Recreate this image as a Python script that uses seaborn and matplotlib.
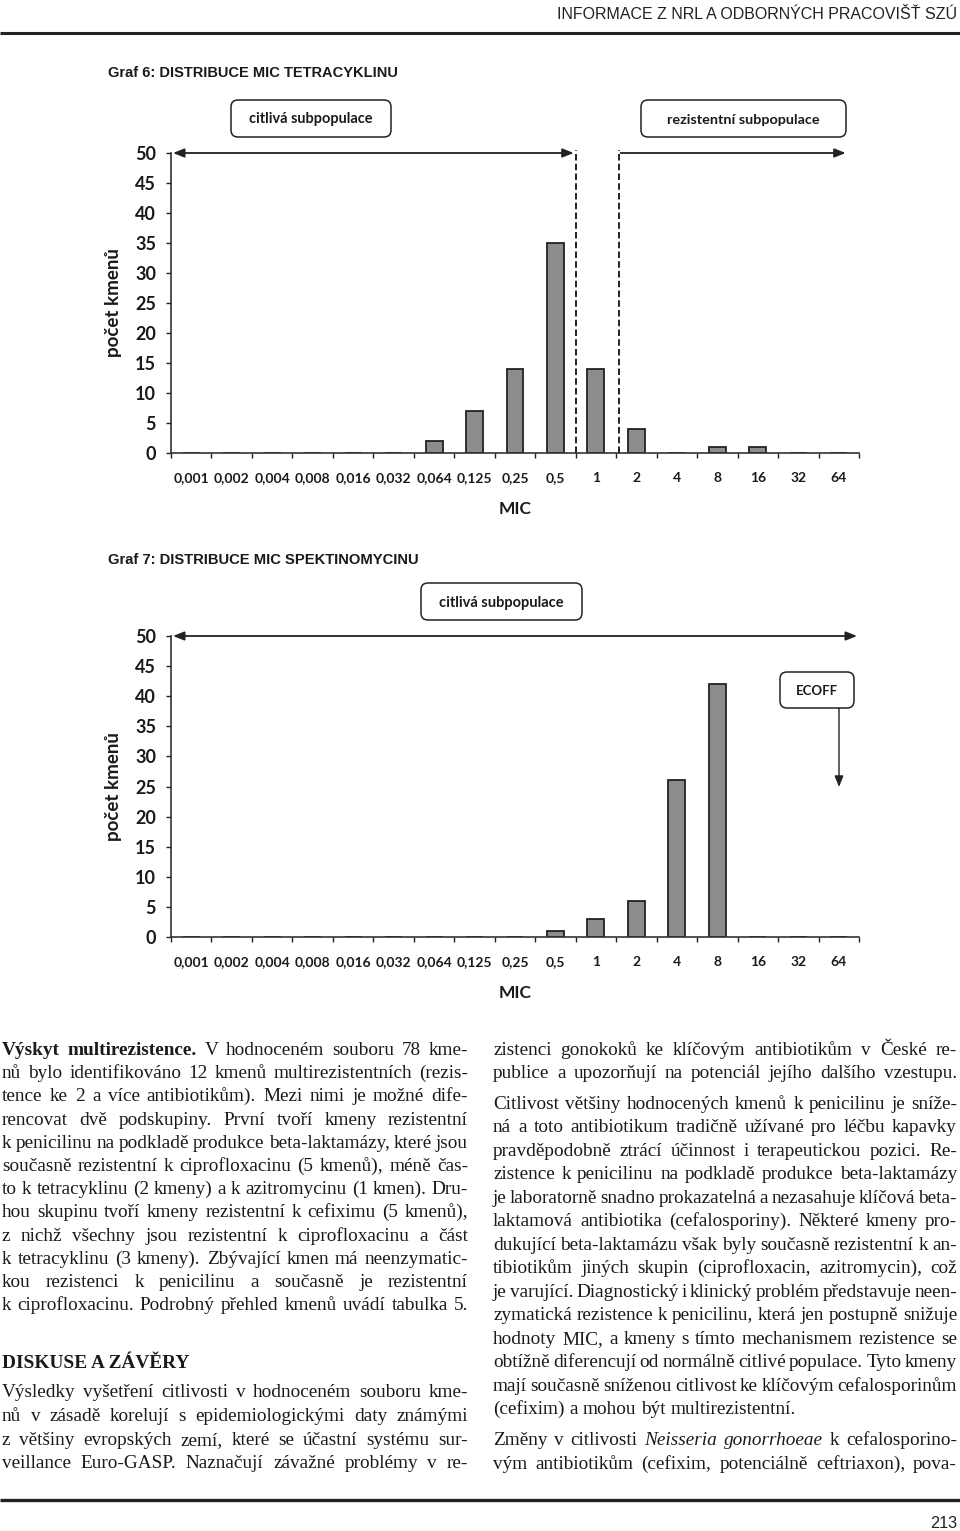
import matplotlib
matplotlib.use('Agg')
import matplotlib.pyplot as plt
import matplotlib.patches as mpatches
import pandas as pd
import seaborn as sns


# chart data
mic_labels = ['0,001', '0,002', '0,004', '0,008', '0,016', '0,032', '0,064', '0,125',
              '0,25', '0,5', '1', '2', '4', '8', '16', '32', '64']
tetra_counts = [0, 0, 0, 0, 0, 0, 2, 7, 14, 35, 14, 4, 0, 1, 1, 0, 0]
spekt_counts = [0, 0, 0, 0, 0, 0, 0, 0, 0, 1, 3, 6, 26, 42, 0, 0, 0]
y_ticks = list(range(0, 55, 5))

# page text (* = bold word, _ = italic word)
left_par1 = [
    '*Výskyt* *multirezistence.* V hodnoceném souboru 78 kme-',
    'nů bylo identifikováno 12 kmenů multirezistentních (rezis-',
    'tence ke 2 a více antibiotikům). Mezi nimi je možné dife-',
    'rencovat dvě podskupiny. První tvoří kmeny rezistentní',
    'k penicilinu na podkladě produkce beta-laktamázy, které jsou',
    'současně rezistentní k ciprofloxacinu (5 kmenů), méně čas-',
    'to k tetracyklinu (2 kmeny) a k azitromycinu (1 kmen). Dru-',
    'hou skupinu tvoří kmeny rezistentní k cefiximu (5 kmenů),',
    'z nichž všechny jsou rezistentní k ciprofloxacinu a část',
    'k tetracyklinu (3 kmeny). Zbývající kmen má neenzymatic-',
    'kou rezistenci k penicilinu a současně je rezistentní',
    'k ciprofloxacinu. Podrobný přehled kmenů uvádí tabulka 5.',
]
left_par2 = [
    'Výsledky vyšetření citlivosti v hodnoceném souboru kme-',
    'nů v zásadě korelují s epidemiologickými daty známými',
    'z většiny evropských zemí, které se účastní systému sur-',
    'veillance Euro-GASP. Naznačují závažné problémy v re-',
]
right_par1 = [
    'zistenci gonokoků ke klíčovým antibiotikům v České re-',
    'publice a upozorňují na potenciál jejího dalšího vzestupu.',
]
right_par2 = [
    'Citlivost většiny hodnocených kmenů k penicilinu je sníže-',
    'ná a toto antibiotikum tradičně užívané pro léčbu kapavky',
    'pravděpodobně ztrácí účinnost i terapeutickou pozici. Re-',
    'zistence k penicilinu na podkladě produkce beta-laktamázy',
    'je laboratorně snadno prokazatelná a nezasahuje klíčová beta-',
    'laktamová antibiotika (cefalosporiny). Některé kmeny pro-',
    'dukující beta-laktamázu však byly současně rezistentní k an-',
    'tibiotikům jiných skupin (ciprofloxacin, azitromycin), což',
    'je varující. Diagnostický i klinický problém představuje neen-',
    'zymatická rezistence k penicilinu, která jen postupně snižuje',
    'hodnoty MIC, a kmeny s tímto mechanismem rezistence se',
    'obtížně diferencují od normálně citlivé populace. Tyto kmeny',
    'mají současně sníženou citlivost ke klíčovým cefalosporinům',
    '(cefixim) a mohou být multirezistentní.',
]
right_par3 = [
    'Změny v citlivosti _Neisseria_ _gonorrhoeae_ k cefalosporino-',
    'vým antibiotikům (cefixim, potenciálně ceftriaxon), pova-',
]

W, H = 960, 1531
SERIF = ['Liberation Serif', 'DejaVu Serif']
NARROW = ['Liberation Sans Narrow', 'Liberation Sans', 'DejaVu Sans']
CHART = ['Lato', 'DejaVu Sans']
BODY_PT = 13.9

sns.set_theme(style='white')
plt.rcParams['font.family'] = CHART

fig = plt.figure(figsize=(W / 100, H / 100), dpi=100)
fig.patch.set_facecolor('white')
page = fig.add_axes([0, 0, 1, 1])
page.set_xlim(0, W)
page.set_ylim(H, 0)
page.axis('off')
page.patch.set_visible(False)
renderer = fig.canvas.get_renderer()


def text_width(txt, size, **kw):
    t = page.text(0, 0, txt, fontsize=size, **kw)
    w = t.get_window_extent(renderer=renderer).width
    t.remove()
    return w


# put a text and scale its font so it spans the given width
def fit_text(x, y, txt, width, size, **kw):
    t = page.text(x, y, txt, fontsize=size, **kw)
    w = t.get_window_extent(renderer=renderer).width
    t.set_fontsize(size * width / w)
    return t


def word_style(word):
    if word.startswith('*'):
        return word.strip('*'), dict(fontweight='bold')
    if word.startswith('_'):
        return word.strip('_'), dict(fontstyle='italic')
    return word, {}


# justified paragraph, one text per word
def paragraph(lines, x0, x1, y0, step, size=BODY_PT):
    colw = x1 - x0
    for i, line in enumerate(lines):
        y = y0 + i * step
        words = [word_style(w) for w in line.split()]
        s = size
        while True:
            widths = [text_width(w, s, family=SERIF, **kw) for w, kw in words]
            em = s / 72 * 100
            natural = sum(widths) + 0.14 * em * (len(words) - 1)
            if natural <= colw or s < size * 0.88:
                break
            s *= 0.99
        space = 0.25 * em
        if sum(widths) + space * (len(words) - 1) < 0.72 * colw:
            gap = space
        else:
            gap = (colw - sum(widths)) / max(len(words) - 1, 1)
        x = x0
        for (w, kw), wd in zip(words, widths):
            page.text(x, y, w, fontsize=s, family=SERIF, ha='left', va='baseline',
                      color='#1a1a1a', **kw)
            x += wd + gap


def rounded_box(x, y, w, h, label, text_w):
    page.add_patch(mpatches.FancyBboxPatch((x, y), w, h,
                                           boxstyle='round,pad=0,rounding_size=7',
                                           facecolor='white', edgecolor='#222222', lw=1.1))
    fit_text(x + w / 2, y + h / 2 + 1, label, text_w, 10, family=CHART,
             fontweight='bold', ha='center', va='center', color='#1a1a1a')


def px_axes(left, top, right, bottom):
    return fig.add_axes([left / W, 1 - bottom / H, (right - left) / W, (bottom - top) / H])


def mic_chart(ax, counts):
    df = pd.DataFrame({'MIC': mic_labels, 'count': counts})
    sns.barplot(data=df, x='MIC', y='count', order=mic_labels, color='#8c8c8c',
                edgecolor='#222222', linewidth=1.3, width=0.42, saturation=1, ax=ax)
    ax.set_xlim(-0.5, len(mic_labels) - 0.5)
    ax.set_ylim(0, 50)
    ax.set_yticks(y_ticks)
    ax.set_xticks(range(len(mic_labels)))
    ax.set_xticks([i - 0.5 for i in range(len(mic_labels) + 1)], minor=True)
    ax.tick_params(axis='x', which='major', length=0, pad=14, labelsize=10)
    ax.tick_params(axis='x', which='minor', bottom=True, length=3.8, width=1, color='#222222',
                   direction='out')
    ax.tick_params(axis='y', left=True, length=3.8, width=1, color='#222222',
                   direction='out', pad=7, labelsize=13)
    for lab in ax.get_xticklabels() + ax.get_yticklabels():
        lab.set_fontweight('bold')
        lab.set_color('#1a1a1a')
    ax.set_xlabel('MIC', fontsize=12.5, fontweight='bold', labelpad=12, color='#1a1a1a')
    ax.set_ylabel('počet kmenů', fontsize=13.5, fontweight='bold', labelpad=9, color='#1a1a1a')
    sns.despine(ax=ax)
    for side in ['left', 'bottom']:
        ax.spines[side].set_color('#333333')
        ax.spines[side].set_linewidth(1.2)
    ax.patch.set_visible(False)


def data_arrow(ax, x0, x1, style):
    ax.annotate('', xy=(x1, 50), xytext=(x0, 50), annotation_clip=False,
                arrowprops=dict(arrowstyle=style + ',head_length=0.55,head_width=0.22',
                                lw=1.3, color='#222222', shrinkA=0, shrinkB=0))


# page header
page.plot([0, W], [33, 33], color='#222222', lw=2.2, solid_capstyle='butt')
fit_text(957, 19, 'INFORMACE Z NRL A ODBORNÝCH PRACOVIŠŤ SZÚ', 401, 12.5, family=NARROW,
         ha='right', va='baseline', color='#222222')

# graph 6
fit_text(108, 77, 'Graf 6: DISTRIBUCE MIC TETRACYKLINU', 290, 12.5, family=NARROW,
         fontweight='bold', ha='left', va='baseline', color='#1a1a1a')
ax1 = px_axes(171, 153, 859, 453)
mic_chart(ax1, tetra_counts)
split1 = mic_labels.index('0,5') + 0.5
split2 = mic_labels.index('1') + 0.58
for xs in [split1, split2]:
    ax1.plot([xs, xs], [0, 50.5], color='#111111', lw=1.3, ls=(0, (3.6, 1.8)), clip_on=False)
data_arrow(ax1, -0.45, split1 - 0.05, '<|-|>')
data_arrow(ax1, split2 + 0.03, 16.17, '-|>')
rounded_box(231, 100, 160, 37, 'citlivá subpopulace', 124)
rounded_box(641, 100, 205, 37, 'rezistentní subpopulace', 153)

# graph 7
fit_text(108, 564, 'Graf 7: DISTRIBUCE MIC SPEKTINOMYCINU', 311, 12.5, family=NARROW,
         fontweight='bold', ha='left', va='baseline', color='#1a1a1a')
ax2 = px_axes(171, 636, 859, 937)
mic_chart(ax2, spekt_counts)
data_arrow(ax2, -0.45, 16.45, '<|-|>')
rounded_box(421, 583, 161, 37, 'citlivá subpopulace', 125)
rounded_box(780, 672, 74, 36, 'ECOFF', 42)
page.annotate('', xy=(839, 787), xytext=(839, 708),
              arrowprops=dict(arrowstyle='-|>,head_length=0.55,head_width=0.22',
                              lw=1.0, color='#222222', shrinkA=0, shrinkB=0))

# body text
paragraph(left_par1, 2, 468, 1055, 23.2)
page.text(2, 1368, 'DISKUSE A ZÁVĚRY', fontsize=BODY_PT, family=SERIF, fontweight='bold',
          ha='left', va='baseline', color='#1a1a1a')
paragraph(left_par2, 2, 468, 1397, 23.8)
paragraph(right_par1, 493, 957, 1055, 23.2)
paragraph(right_par2, 493, 957, 1109, 23.46)
paragraph(right_par3, 493, 957, 1445, 23.8)

# footer
page.plot([0, W], [1500, 1500], color='#222222', lw=2.4, solid_capstyle='butt')
fit_text(957, 1528, '213', 27, 13, family=NARROW, ha='right', va='baseline', color='#222222')

fig.savefig('out.png', dpi=100, facecolor='white')
